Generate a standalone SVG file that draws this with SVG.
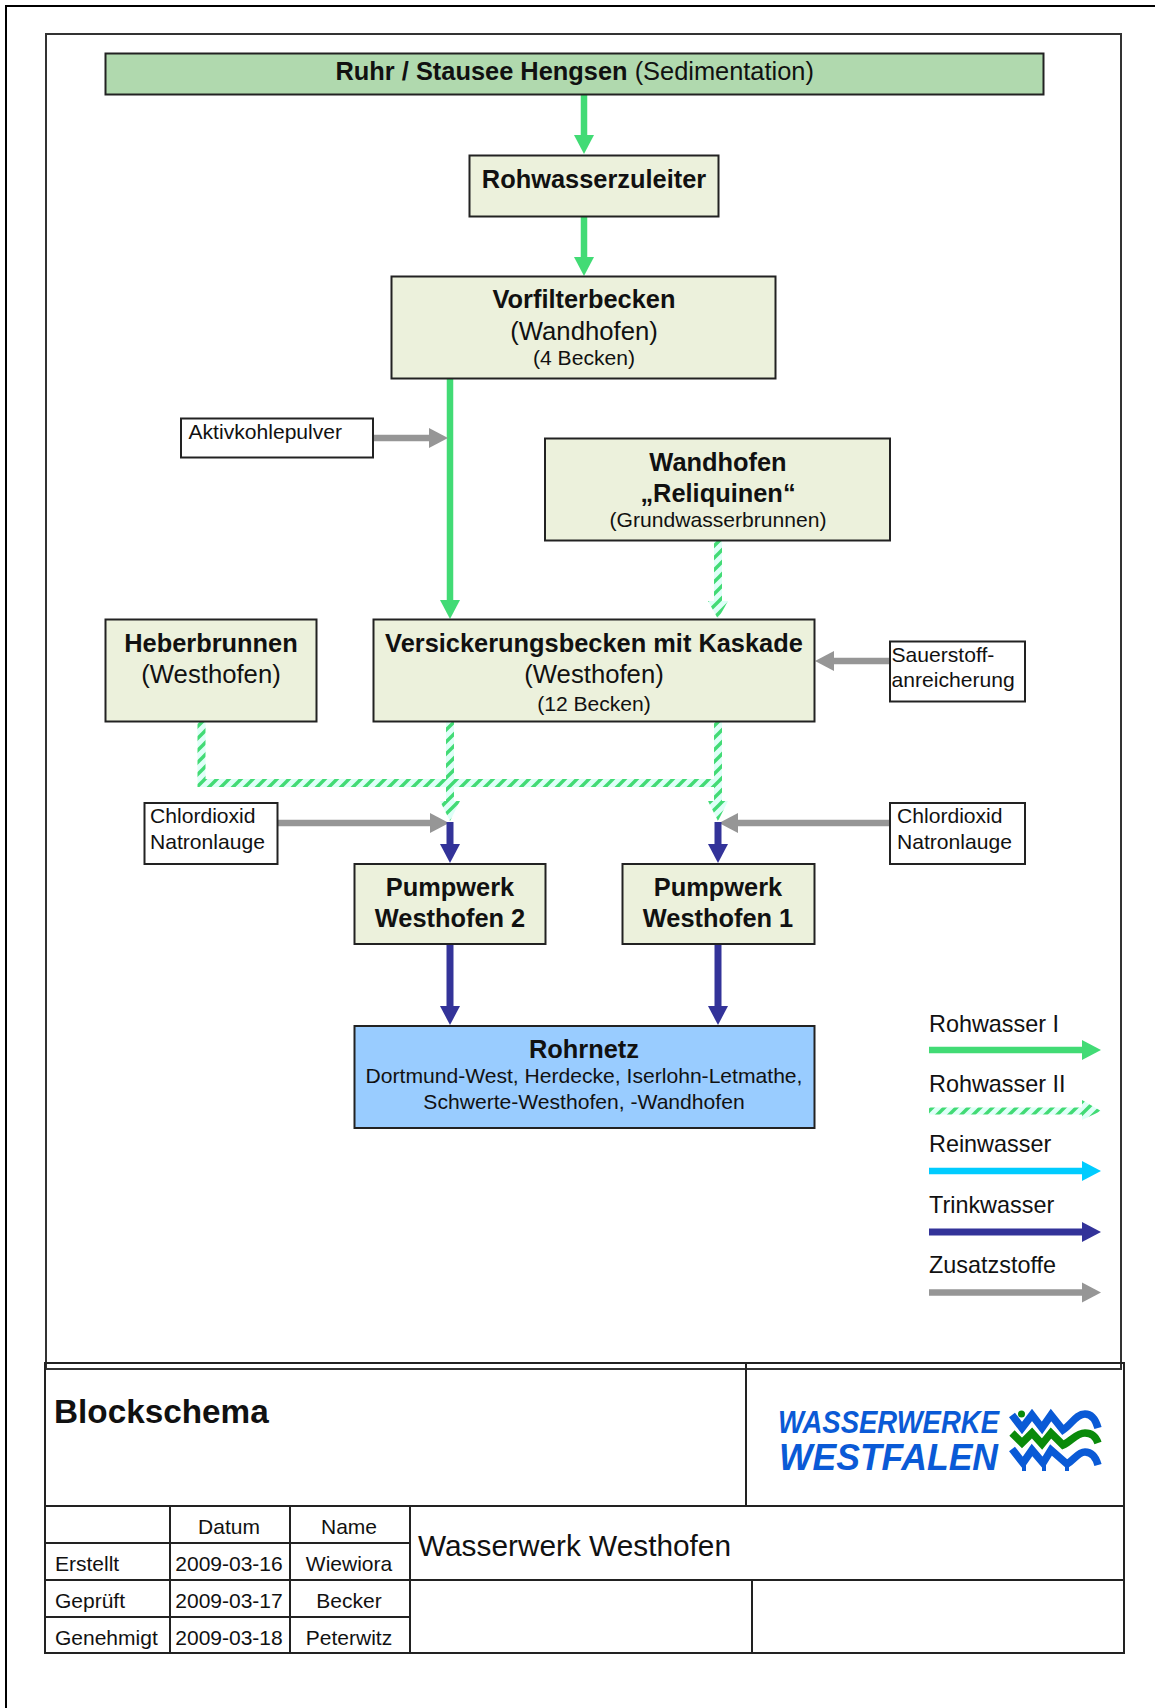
<svg xmlns="http://www.w3.org/2000/svg" width="1155" height="1708" viewBox="0 0 1155 1708">
<style>
text{font-family:"Liberation Sans",Arial,sans-serif;fill:#111}
.b{font-weight:bold;font-size:25.400px}
.r{font-size:25.700px}
.s{font-size:21.100px}
.c{text-anchor:middle}
.t{font-size:21px}
.n{fill:#ECF1DC;stroke:#222;stroke-width:2}
.w{fill:#fff;stroke:#222;stroke-width:2}
.f{fill:none;stroke:#333;stroke-width:2}
.k{fill:none;stroke:#222;stroke-width:2}
.g{stroke:#42DB75;stroke-width:6.5;fill:none}
.y{stroke:#969696;stroke-width:6.5;fill:none}
.d{stroke:#333399;stroke-width:7;fill:none}
.q{stroke:#00CCFF;stroke-width:6.5;fill:none}
.h{stroke:url(#hatch);stroke-width:8;fill:none}
.lg{font-size:23.400px}
.logo{font-family:"Liberation Sans",Arial,sans-serif;font-weight:bold;font-style:italic;fill:#0A5AD6}
</style>
<defs>
<pattern id="hatch" patternUnits="userSpaceOnUse" width="12" height="12">
<rect width="12" height="12" fill="#DFFFF8"/>
<path d="M-3 3L3 -3M0 12L12 0M9 15L15 9" stroke="#42DB75" stroke-width="3.400"/>
</pattern>
<marker id="ag" markerUnits="userSpaceOnUse" markerWidth="20" markerHeight="22" refX="0" refY="11" orient="auto"><path d="M0 1L19 11L0 21Z" fill="#42DB75"/></marker>
<marker id="ay" markerUnits="userSpaceOnUse" markerWidth="20" markerHeight="22" refX="0" refY="11" orient="auto"><path d="M0 1L19 11L0 21Z" fill="#969696"/></marker>
<marker id="ad" markerUnits="userSpaceOnUse" markerWidth="20" markerHeight="22" refX="0" refY="11" orient="auto"><path d="M0 1L19 11L0 21Z" fill="#333399"/></marker>
<marker id="aq" markerUnits="userSpaceOnUse" markerWidth="20" markerHeight="22" refX="0" refY="11" orient="auto"><path d="M0 1L19 11L0 21Z" fill="#00CCFF"/></marker>
</defs>
<rect width="1155" height="1708" fill="#fff"/>
<g id="page-frame">
<path class="k" d="M6 1708V6H1155" style="stroke:#000"/>
<path class="f" d="M46 1369V34H1121V1369H46"/>
</g>
<g id="connectors">
<path class="g" d="M584 94V135" marker-end="url(#ag)"/>
<path class="g" d="M584 216V257" marker-end="url(#ag)"/>
<path class="g" d="M450 378V600" marker-end="url(#ag)"/>
<path class="y" d="M373 438H429" marker-end="url(#ay)"/>
<path class="h" d="M718 540V604"/>
<path d="M708 601H728L718 619Z" fill="url(#hatch)"/>
<path class="h" d="M201.500 722V783H718"/>
<path class="h" d="M450 722V803"/>
<path class="h" d="M718 722V803"/>
<path d="M440 801H460L450 821Z" fill="url(#hatch)"/>
<path d="M708 801H728L718 821Z" fill="url(#hatch)"/>
<path class="y" d="M890 661H834" marker-end="url(#ay)"/>
<path class="y" d="M278 823H430" marker-end="url(#ay)"/>
<path class="y" d="M890 823H738" marker-end="url(#ay)"/>
<path class="d" d="M450 822V844" marker-end="url(#ad)"/>
<path class="d" d="M718 822V844" marker-end="url(#ad)"/>
<path class="d" d="M450 944V1006" marker-end="url(#ad)"/>
<path class="d" d="M718 944V1006" marker-end="url(#ad)"/>
</g>
<g id="n-ruhr"><rect x="105.500" y="53.500" width="938" height="41" fill="#B0D9AE" stroke="#222" stroke-width="2"/>
<text x="335.500" y="80" style="font-size:25.400px"><tspan font-weight="bold">Ruhr / Stausee Hengsen</tspan> (Sedimentation)</text></g>
<g id="n-zuleiter"><rect class="n" x="469.500" y="155.500" width="249" height="61"/><text class="b c" x="594" y="188">Rohwasserzuleiter</text></g>
<g id="n-vorfilter"><rect class="n" x="391.500" y="276.500" width="384" height="102"/>
<text class="b c" x="584" y="308">Vorfilterbecken</text><text class="r c" x="584" y="340">(Wandhofen)</text><text class="s c" x="584" y="365">(4 Becken)</text></g>
<g id="n-aktivkohle"><rect class="w" x="181" y="418.500" width="192" height="39"/><text class="s" x="188.500" y="439">Aktivkohlepulver</text></g>
<g id="n-reliquinen"><rect class="n" x="545" y="438.500" width="345" height="102"/>
<text class="b c" x="718" y="471">Wandhofen</text><text class="b c" x="718" y="502">„Reliquinen“</text><text class="s c" x="718" y="527">(Grundwasserbrunnen)</text></g>
<g id="n-heber"><rect class="n" x="105.500" y="619.500" width="211" height="102"/>
<text class="b c" x="211" y="652">Heberbrunnen</text><text class="r c" x="211" y="683">(Westhofen)</text></g>
<g id="n-versickerung"><rect class="n" x="373.500" y="619.500" width="441" height="102"/>
<text class="b c" x="594" y="652">Versickerungsbecken mit Kaskade</text><text class="r c" x="594" y="683">(Westhofen)</text><text class="s c" x="594" y="711">(12 Becken)</text></g>
<g id="n-sauerstoff"><rect class="w" x="890" y="641.500" width="135" height="60"/><text class="s" x="891.500" y="661.500">Sauerstoff-</text><text class="s" x="891.500" y="687">anreicherung</text></g>
<g id="n-chlor-l"><rect class="w" x="144.500" y="803" width="133" height="61"/><text class="s" x="150" y="823">Chlordioxid</text><text class="s" x="150" y="849">Natronlauge</text></g>
<g id="n-chlor-r"><rect class="w" x="890" y="803" width="135" height="61"/><text class="s" x="897" y="823">Chlordioxid</text><text class="s" x="897" y="849">Natronlauge</text></g>
<g id="n-pump2"><rect class="n" x="354.500" y="864" width="191" height="80"/><text class="b c" x="450" y="896">Pumpwerk</text><text class="b c" x="450" y="927">Westhofen 2</text></g>
<g id="n-pump1"><rect class="n" x="622.500" y="864" width="192" height="80"/><text class="b c" x="718" y="896">Pumpwerk</text><text class="b c" x="718" y="927">Westhofen 1</text></g>
<g id="n-rohrnetz"><rect x="354.500" y="1026" width="460" height="102" fill="#99CCFF" stroke="#222" stroke-width="2"/>
<text class="b c" x="584" y="1058">Rohrnetz</text><text class="s c" x="584" y="1083">Dortmund-West, Herdecke, Iserlohn-Letmathe,</text><text class="s c" x="584" y="1109">Schwerte-Westhofen, -Wandhofen</text></g>
<g id="legend">
<text class="lg" x="929" y="1032">Rohwasser I</text><path class="g" d="M929 1050H1082" marker-end="url(#ag)"/>
<text class="lg" x="929" y="1092">Rohwasser II</text><path class="h" style="stroke-width:7" d="M929 1111H1084"/><path d="M1082 1100L1101 1111L1082 1120Z" fill="url(#hatch)"/>
<text class="lg" x="929" y="1152">Reinwasser</text><path class="q" d="M929 1171H1082" marker-end="url(#aq)"/>
<text class="lg" x="929" y="1213">Trinkwasser</text><path class="d" d="M929 1232H1082" marker-end="url(#ad)"/>
<text class="lg" x="929" y="1273">Zusatzstoffe</text><path class="y" d="M929 1292.500H1082" marker-end="url(#ay)"/>
</g>
<g id="title-block">
<path class="k" d="M45 1363H1124V1653H45ZM746 1363V1506M45 1506H1124M45 1543H410M45 1580H1124M45 1617H410M170 1506V1653M290 1506V1653M410 1506V1653M752 1580V1653"/>
<text x="54" y="1423" font-weight="bold" style="font-size:33.300px">Blockschema</text>
<text x="418" y="1556" style="font-size:29.800px">Wasserwerk Westhofen</text>
<text class="t c" x="229" y="1534">Datum</text><text class="t c" x="349" y="1534">Name</text>
<text class="t" x="55" y="1571">Erstellt</text><text class="t c" x="229" y="1571">2009-03-16</text><text class="t c" x="349" y="1571">Wiewiora</text>
<text class="t" x="55" y="1608">Geprüft</text><text class="t c" x="229" y="1608">2009-03-17</text><text class="t c" x="349" y="1608">Becker</text>
<text class="t" x="55" y="1645">Genehmigt</text><text class="t c" x="229" y="1645">2009-03-18</text><text class="t c" x="349" y="1645">Peterwitz</text>
</g>
<g id="logo">
<text class="logo" x="778" y="1433" textLength="221" lengthAdjust="spacingAndGlyphs" style="font-size:31px">WASSERWERKE</text>
<text class="logo" x="779" y="1470" textLength="219" lengthAdjust="spacingAndGlyphs" style="font-size:37px">WESTFALEN</text>
<g fill="none" stroke-width="7.500" stroke-linejoin="miter">
<path d="M1012 1415L1022 1428L1032 1415L1042 1428L1051 1415L1063 1430C1072 1424 1076 1414 1085 1414C1092 1414 1096 1421 1098 1428" stroke="#0A5AD6"/>
<path d="M1012 1433L1022 1443L1032 1433L1042 1444L1051 1433L1063 1445C1072 1441 1076 1433 1085 1433C1092 1433 1096 1437 1098 1443" stroke="#0A8A0A"/>
<path d="M1012 1449L1023 1463L1032 1450L1043 1463L1051 1450L1067 1464C1074 1460 1078 1452 1085 1452C1092 1452 1096 1458 1098 1465" stroke="#0A5AD6"/>
<path d="M1024 1463V1471M1044 1463V1471M1067 1463V1471" stroke="#0A5AD6" stroke-width="4"/>
</g>
<circle cx="1021.500" cy="1414" r="3.500" fill="#0A8A0A"/>
</g>
</svg>
